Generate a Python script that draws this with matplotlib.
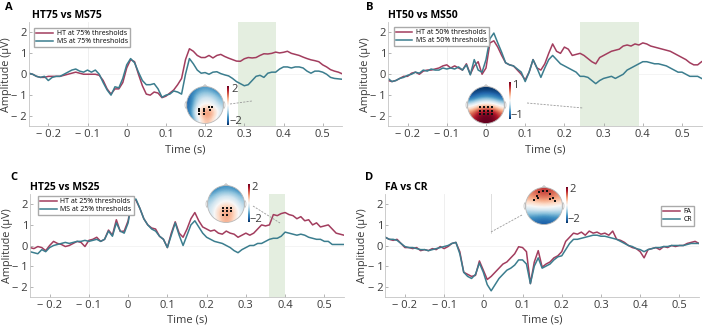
import numpy as np
import matplotlib
matplotlib.use("Agg")
import matplotlib.pyplot as plt
from matplotlib.patches import Circle, Polygon, Ellipse
from matplotlib.lines import Line2D

plt.rcParams["font.family"] = ["Open Sans", "DejaVu Sans"]

# -----------------------------
# Data
# -----------------------------
times = np.round(np.arange(-0.25, 0.551, 0.01), 2)

ht75 = [0.05, 0.0, -0.1, -0.15, -0.15, -0.1, -0.1, -0.1, -0.1, -0.05,
        0.0, 0.05, 0.1, 0.05, 0.0, 0.0, 0.0, 0.0, -0.05, -0.3,
        -0.7, -0.95, -0.7, -0.7, -0.4, 0.3, 0.7, 0.6, 0.0, -0.55,
        -0.95, -1.0, -0.85, -0.9, -1.12, -1.05, -0.9, -0.75, -0.5, -0.2,
        0.7, 1.22, 1.1, 0.9, 0.8, 0.8, 0.9, 0.78, 0.9, 0.95,
        0.85, 0.77, 0.7, 0.63, 0.62, 0.74, 0.8, 0.78, 0.8, 0.9,
        0.98, 0.97, 1.0, 1.06, 1.02, 1.05, 1.1, 1.0, 0.95, 0.9,
        0.82, 0.75, 0.69, 0.65, 0.6, 0.45, 0.35, 0.22, 0.15, 0.1,
        0.02]
ms75 = [0.05, 0.0, -0.1, -0.15, -0.1, -0.3, -0.15, -0.1, -0.1, 0.0,
        0.1, 0.2, 0.25, 0.15, 0.1, 0.2, 0.1, 0.2, 0.0, -0.4,
        -0.75, -1.0, -0.6, -0.65, -0.2, 0.45, 0.75, 0.55, 0.1, -0.3,
        -0.5, -0.5, -0.45, -0.7, -1.1, -1.0, -0.95, -0.8, -0.85, -0.95,
        0.0, 0.75, 0.5, 0.2, 0.05, 0.08, 0.0, 0.1, 0.12, 0.03,
        -0.03, -0.08, -0.2, -0.35, -0.45, -0.55, -0.5, -0.3, -0.1, -0.05,
        -0.15, 0.05, 0.1, 0.1, 0.25, 0.35, 0.35, 0.3, 0.35, 0.35,
        0.3, 0.15, 0.05, 0.15, 0.15, 0.1, 0.0, -0.15, -0.2, -0.22,
        -0.24]

ht50 = [-0.3, -0.35, -0.3, -0.2, -0.1, -0.1, 0.05, 0.1, 0.0, 0.15,
        0.2, 0.2, 0.25, 0.3, 0.4, 0.45, 0.3, 0.4, 0.3, 0.2,
        0.5, 0.0, 0.4, 0.6, 0.0, 0.3, 1.5, 1.6, 1.3, 0.9,
        0.55, 0.45, 0.4, 0.2, 0.0, -0.27, 0.1, 0.7, 0.3, 0.2,
        0.5, 1.0, 1.45, 1.1, 1.0, 1.3, 1.2, 0.9, 0.95, 1.0,
        0.9, 0.75, 0.6, 0.5, 0.8, 0.9, 1.0, 1.1, 1.15, 1.2,
        1.35, 1.4, 1.35, 1.45, 1.4, 1.5, 1.45, 1.35, 1.3, 1.25,
        1.2, 1.15, 1.1, 1.0, 0.9, 0.8, 0.7, 0.55, 0.45, 0.45,
        0.6]
ms50 = [-0.2, -0.35, -0.3, -0.2, -0.15, -0.05, 0.0, 0.1, 0.05, 0.2,
        0.15, 0.25, 0.2, 0.2, 0.3, 0.25, 0.3, 0.25, 0.35, 0.2,
        0.45, -0.03, 0.7, 0.2, 0.1, 0.7, 1.7, 1.97, 1.5, 1.05,
        0.55, 0.45, 0.4, 0.25, 0.1, -0.35, 0.1, 0.7, 0.3, -0.15,
        0.3, 0.7, 0.9, 0.7, 0.5, 0.4, 0.3, 0.2, 0.1, -0.1,
        -0.1, -0.15, -0.3, -0.45, -0.3, -0.2, -0.15, -0.1, -0.2, -0.1,
        0.0, 0.2, 0.3, 0.4, 0.5, 0.6, 0.6, 0.55, 0.5, 0.5,
        0.45, 0.4, 0.3, 0.2, 0.1, 0.1, 0.0, -0.1, -0.1, -0.1,
        -0.2]

ht25 = [-0.1, -0.15, -0.05, -0.1, -0.25, 0.0, 0.2, 0.1, 0.05, -0.05,
        0.0, 0.1, 0.2, 0.15, -0.05, 0.25, 0.3, 0.4, 0.2, 0.3,
        0.75, 0.5, 1.25, 0.68, 0.7, 1.2, 2.25, 2.2, 1.8, 1.3,
        1.0, 0.85, 0.8, 0.45, 0.3, -0.1, 0.6, 1.15, 0.6, 0.4,
        0.8, 1.3, 1.6, 1.2, 0.9, 0.8, 0.7, 0.75, 0.6, 0.55,
        0.7, 0.6, 0.55, 0.4, 0.5, 0.6, 0.5, 0.6, 0.8, 1.0,
        0.95, 1.0, 1.5, 1.45, 1.55, 1.6, 1.5, 1.45, 1.3, 1.4,
        1.2, 1.25, 1.0, 1.1, 0.9, 0.95, 1.0, 0.8, 0.6, 0.55,
        0.5]
ms25 = [-0.3, -0.35, -0.4, -0.2, -0.3, -0.1, 0.0, 0.05, 0.1, 0.15,
        0.1, 0.15, 0.2, 0.2, 0.25, 0.2, 0.25, 0.3, 0.2, 0.3,
        0.7, 0.45, 1.1, 0.7, 0.6, 1.1, 2.25, 2.25, 1.8, 1.3,
        1.0, 0.8, 0.7, 0.45, 0.3, -0.1, 0.5, 1.1, 0.5, 0.0,
        0.5, 1.0, 1.2, 0.9, 0.6, 0.4, 0.3, 0.2, 0.15, 0.1,
        0.0, -0.1, -0.25, -0.35, -0.2, -0.1, 0.0, 0.0, 0.1, 0.1,
        0.2, 0.3, 0.35, 0.35, 0.45, 0.65, 0.6, 0.55, 0.5, 0.55,
        0.5, 0.4, 0.35, 0.3, 0.3, 0.2, 0.2, 0.05, 0.05, 0.05,
        0.05]

fa = [0.4, 0.3, 0.25, 0.3, 0.1, -0.1, -0.1, -0.15, -0.1, -0.25,
      -0.2, -0.25, -0.15, -0.2, -0.05, -0.15, -0.05, 0.1, 0.15, -0.3,
      -1.3, -1.4, -1.5, -1.45, -0.75, -1.2, -1.65, -1.5, -1.3, -1.1,
      -0.9, -0.8, -0.6, -0.4, -0.06, -0.1, -0.3, -1.85, -0.8, -0.25,
      -1.05, -0.9, -0.8, -0.6, -0.5, -0.3, 0.2, 0.4, 0.6, 0.55,
      0.65, 0.5, 0.7, 0.6, 0.65, 0.55, 0.6, 0.5, 0.7, 0.3,
      0.25, 0.15, 0.0, -0.1, -0.15, -0.3, -0.6, -0.2, -0.15, -0.1,
      -0.2, -0.05, -0.1, 0.0, -0.05, 0.0, 0.0, 0.1, 0.15, 0.2,
      0.1]
cr = [0.4, 0.3, 0.3, 0.25, 0.1, -0.05, -0.1, -0.1, -0.15, -0.2,
      -0.2, -0.25, -0.2, -0.15, -0.1, -0.05, 0.0, 0.1, 0.15, -0.4,
      -1.3, -1.5, -1.6, -1.4, -0.85, -1.3, -1.9, -2.2, -1.9, -1.6,
      -1.4, -1.2, -1.1, -0.95, -0.7, -0.7, -0.9, -1.85, -1.0, -0.6,
      -1.1, -1.0, -0.9, -0.7, -0.55, -0.5, -0.2, 0.1, 0.3, 0.3,
      0.35, 0.4, 0.45, 0.5, 0.5, 0.45, 0.45, 0.4, 0.35, 0.3,
      0.2, 0.1, 0.0, -0.05, -0.15, -0.2, -0.3, -0.2, -0.15, -0.1,
      -0.1, -0.05, -0.05, 0.0, 0.0, 0.0, 0.0, 0.05, 0.1, 0.1,
      0.1]

# topographies: coarse 5x5 grids (front row first), in microvolts
topo_a = [[-1.6, -1.3, -1.1, -1.3, -1.6],
          [-1.6, -0.6, -0.4, -0.5, -1.1],
          [-1.6, -0.3, 0.1, -0.1, -0.7],
          [-1.5, 0.4, 1.2, 0.9, -0.3],
          [-1.8, -0.3, 0.7, 0.3, -0.9]]
topo_b = [[-1.0, -1.0, -1.0, -1.0, -1.0],
          [-0.9, -0.7, -0.6, -0.7, -0.9],
          [-0.2, 0.1, 0.2, 0.1, -0.2],
          [0.5, 0.9, 1.0, 0.9, 0.5],
          [0.7, 1.0, 1.0, 1.0, 0.7]]
topo_c = [[-1.6, -1.3, -1.2, -1.3, -1.6],
          [-1.0, -0.5, -0.4, -0.5, -1.0],
          [-0.6, 0.0, 0.3, 0.0, -0.6],
          [-0.4, 0.6, 1.0, 0.6, -0.4],
          [-0.5, 0.4, 0.8, 0.4, -0.5]]
topo_d = [[1.0, 1.3, 1.5, 1.3, 1.0],
          [0.8, 1.0, 1.1, 1.0, 0.8],
          [0.0, 0.2, 0.3, 0.2, 0.0],
          [-0.8, -0.8, -0.9, -0.8, -0.8],
          [-1.5, -1.6, -1.7, -1.6, -1.5]]

# electrode clusters (head coordinates, nose up)
elec_a_x = [-0.3, -0.05, 0.2, 0.4, -0.3, -0.05, 0.25, -0.3, -0.05]
elec_a_y = [-0.2, -0.2, -0.1, -0.1, -0.35, -0.35, -0.25, -0.5, -0.5]
elec_b_x = [-0.3, -0.1, 0.1, 0.3, -0.3, -0.1, 0.1, 0.3, -0.3, -0.1, 0.1, 0.3]
elec_b_y = [-0.1, -0.1, -0.1, -0.1, -0.3, -0.3, -0.3, -0.3, -0.5, -0.5, -0.5, -0.5]
elec_c_x = [-0.15, 0.05, 0.25, -0.15, 0.05, 0.25, -0.15, 0.05]
elec_c_y = [-0.2, -0.2, -0.2, -0.4, -0.4, -0.4, -0.6, -0.6]
elec_d_x = [-0.55, -0.4, -0.25, -0.05, 0.15, 0.35, 0.5, 0.6, -0.3, 0.35]
elec_d_y = [0.35, 0.55, 0.75, 0.82, 0.8, 0.65, 0.45, 0.25, 0.45, 0.4]

xtick_vals = [-0.2, -0.1, 0, 0.1, 0.2, 0.3, 0.4, 0.5]
xtick_labels = ["\u2212 0.2", "\u2212 0.1", "0", "0.1", "0.2", "0.3", "0.4", "0.5"]
ytick_vals = [-2, -1, 0, 1, 2]
ytick_labels = ["\u2212 2", "\u2212 1", "0", "1", "2"]

RED = "#a23d5e"
TEAL = "#3b7d8e"
GREEN = "#e4eee0"
W, H = 709, 329


def fx(px):
    return px / W


def fy(py):
    return 1 - py / H


def erp_axes(left, top, right, bottom):
    ax = fig.add_axes([fx(left), fy(bottom), (right - left) / W, (bottom - top) / H])
    ax.set_xlim(-0.25, 0.55)
    ax.set_ylim(-2.5, 2.5)
    ax.set_xticks(xtick_vals)
    ax.set_xticklabels(xtick_labels)
    ax.set_yticks(ytick_vals)
    ax.set_yticklabels(ytick_labels)
    ax.tick_params(direction="in", length=2.5, width=0.5, color="#999999",
                   labelsize=8, labelcolor="#3a3a3a", pad=2)
    ax.tick_params(axis="y", pad=1.5)
    for s in ["top", "right"]:
        ax.spines[s].set_visible(False)
    for s in ["left", "bottom"]:
        ax.spines[s].set_color("#c4c4c4")
        ax.spines[s].set_linewidth(0.6)
    ax.axvline(-0.1, color="#ececec", lw=0.6, zorder=0)
    ax.axhline(0, color="#f2f2f2", lw=0.6, zorder=0)
    ax.set_xlabel("Time (s)", fontsize=8, color="#3a3a3a", labelpad=3)
    ax.set_ylabel("Amplitude (\u00b5V)", fontsize=7.8, color="#3a3a3a")
    ax.yaxis.set_label_coords(-0.054, 0.5)
    return ax


def add_legend(ax, loc, anchor):
    ax.legend(loc=loc, bbox_to_anchor=anchor, fontsize=5, handlelength=2.4,
              handletextpad=0.5, frameon=True, fancybox=False, edgecolor="#aaaaaa",
              framealpha=1, borderpad=0.3, labelspacing=0.15, borderaxespad=0)


def topo(cx, cy, r, grid, ex, ey, vlim, cbx, cby0, cby1, lab_hi, lab_lo):
    tax = fig.add_axes([fx(cx - 1.25 * r), fy(cy + 1.25 * r), 2.5 * r / W, 2.5 * r / H])
    tax.set_xlim(-1.25, 1.25)
    tax.set_ylim(-1.25, 1.25)
    tax.axis("off")
    im = tax.imshow(grid, extent=(-1.05, 1.05, -1.05, 1.05), cmap="RdBu_r",
                    vmin=-vlim, vmax=vlim, interpolation="bicubic")
    head = Circle((0, 0), 1.0, transform=tax.transData)
    im.set_clip_path(head)
    tax.add_patch(Circle((0, 0), 1.0, fill=False, ec="#b8b8b8", lw=0.6))
    tax.add_patch(Polygon([(-0.12, 0.99), (0, 1.1), (0.12, 0.99)], closed=False,
                          fill=False, ec="#b8b8b8", lw=0.6))
    tax.add_patch(Ellipse((-1.03, 0), 0.1, 0.35, fill=False, ec="#b8b8b8", lw=0.5))
    tax.add_patch(Ellipse((1.03, 0), 0.1, 0.35, fill=False, ec="#b8b8b8", lw=0.5))
    tax.scatter(ex, ey, s=2.5, marker="s", c="#111111", lw=0, zorder=3)
    cax = fig.add_axes([fx(cbx), fy(cby1), 2.2 / W, (cby1 - cby0) / H])
    cb = fig.colorbar(im, cax=cax)
    cb.set_ticks([])
    cb.outline.set_visible(False)
    fig.text(fx(cbx + 4), fy(cby0 + 3), lab_hi, fontsize=8, color="#3a3a3a", va="center")
    fig.text(fx(cbx + 2), fy(cby1 - 3), lab_lo, fontsize=8, color="#3a3a3a", va="center")


def connector(x0, y0, x1, y1):
    fig.add_artist(Line2D([fx(x0), fx(x1)], [fy(y0), fy(y1)], transform=fig.transFigure,
                          color="#9a9a9a", lw=0.6, ls=(0, (2.5, 1.5))))


fig = plt.figure(figsize=(7.09, 3.29), dpi=100)

# -----------------------------
# A. HT75 vs MS75
# -----------------------------
ax = erp_axes(28.7, 22, 342.3, 126.5)
ax.axvspan(0.285, 0.38, color=GREEN, lw=0, zorder=0)
ax.plot(times, ht75, color=RED, lw=1.1, label="HT at 75% thresholds")
ax.plot(times, ms75, color=TEAL, lw=1.1, label="MS at 75% thresholds")
add_legend(ax, "upper left", (0.018, 0.94))
topo(205, 105, 18.5, topo_a, elec_a_x, elec_a_y, 2, 227, 86, 125, "2", "\u22122")
connector(230, 104, 252, 101)
fig.text(fx(5), fy(8), "A", fontsize=8, fontweight="bold", va="center")
fig.text(fx(32), fy(16), "HT75 vs MS75", fontsize=7.5, fontweight="bold", va="center")

# -----------------------------
# B. HT50 vs MS50
# -----------------------------
ax = erp_axes(388, 22, 701.6, 126.5)
ax.axvspan(0.24, 0.39, color=GREEN, lw=0, zorder=0)
ax.plot(times, ht50, color=RED, lw=1.1, label="HT at 50% thresholds")
ax.plot(times, ms50, color=TEAL, lw=1.1, label="MS at 50% thresholds")
add_legend(ax, "upper left", (0.018, 0.95))
topo(486, 105, 18.5, topo_b, elec_b_x, elec_b_y, 1, 508.5, 82, 119, "1", "\u22121")
connector(527, 103, 583, 108)
fig.text(fx(366), fy(7), "B", fontsize=8, fontweight="bold", va="center")
fig.text(fx(388), fy(16), "HT50 vs MS50", fontsize=7.5, fontweight="bold", va="center")

# -----------------------------
# C. HT25 vs MS25
# -----------------------------
ax = erp_axes(30, 194, 344, 297)
ax.axvspan(0.36, 0.40, color=GREEN, lw=0, zorder=0)
ax.plot(times, ht25, color=RED, lw=1.1, label="HT at 25% thresholds")
ax.plot(times, ms25, color=TEAL, lw=1.1, label="MS at 25% thresholds")
add_legend(ax, "upper left", (0.026, 0.98))
topo(226, 204, 18.5, topo_c, elec_c_x, elec_c_y, 2, 247.5, 184, 222, "2", "\u22122")
connector(253, 206, 280, 223)
fig.text(fx(10), fy(178), "C", fontsize=8, fontweight="bold", va="center")
fig.text(fx(30), fy(187), "HT25 vs MS25", fontsize=7.5, fontweight="bold", va="center")

# -----------------------------
# D. FA vs CR
# -----------------------------
ax = erp_axes(385.3, 194, 699, 297)
ax.plot([0.02, 0.02], [0.6, 2.5], color="#dddddd", lw=0.7, zorder=0)
ax.plot(times, fa, color=RED, lw=1.1, label="FA")
ax.plot(times, cr, color=TEAL, lw=1.1, label="CR")
add_legend(ax, "upper right", (0.985, 0.88))
topo(544, 206, 18.5, topo_d, elec_d_x, elec_d_y, 2, 565.5, 187, 223, "2", "\u22122")
connector(491, 232, 522, 215)
fig.text(fx(365), fy(178), "D", fontsize=8, fontweight="bold", va="center")
fig.text(fx(385), fy(187), "FA vs CR", fontsize=7.5, fontweight="bold", va="center")

plt.savefig("out.png", dpi=100)
